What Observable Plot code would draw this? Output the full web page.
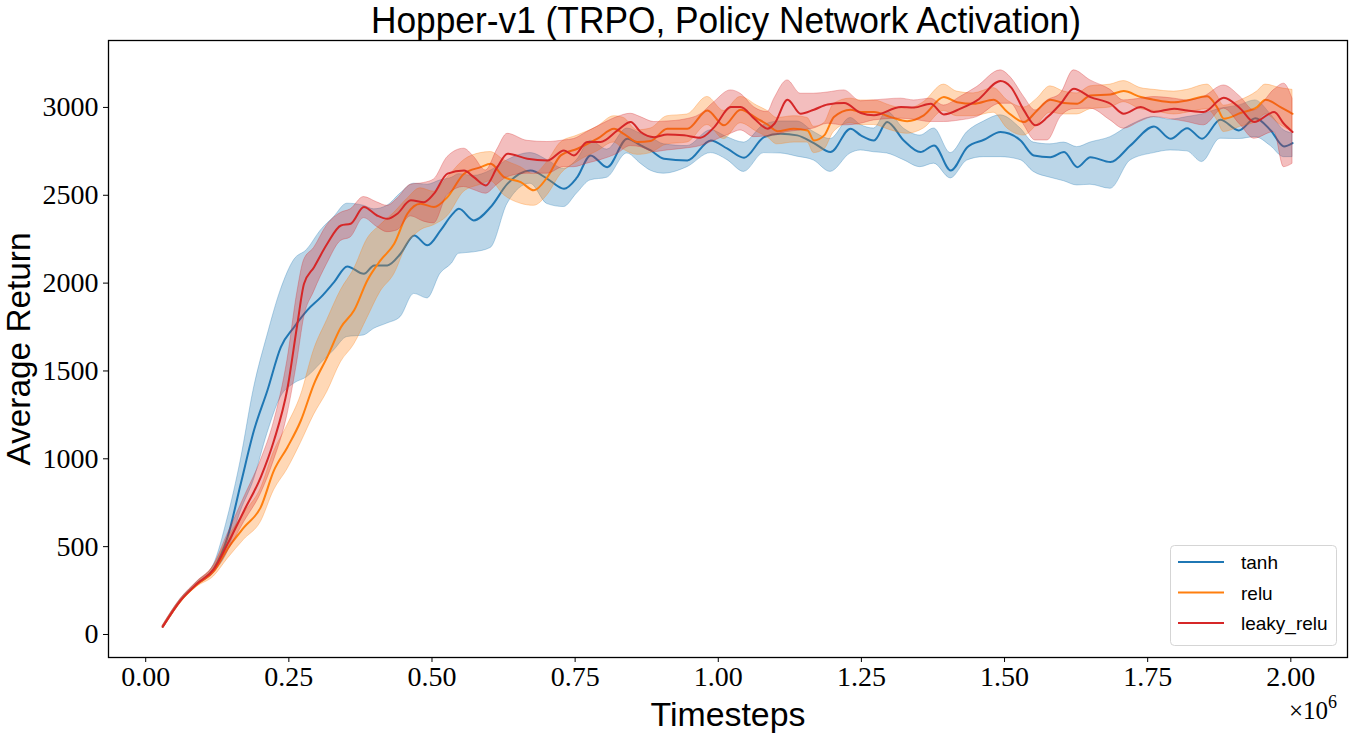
<!DOCTYPE html>
<html>
<head>
<meta charset="utf-8">
<script src="https://cdn.jsdelivr.net/npm/d3@7"></script>
<script src="https://cdn.jsdelivr.net/npm/@observablehq/plot@0.6"></script>
<style>
  html, body { margin: 0; padding: 0; background: white; }
  #wrap { position: relative; width: 1357px; height: 744px; overflow: hidden; }
  #overlay { position: absolute; left: 0; top: 0; pointer-events: none; }
</style>
</head>
<body>
<div id="wrap"></div>
<script>
// ---- Data (timesteps in millions) ----
const seriesNames = ["tanh", "relu", "leaky_relu"];
const seriesColors = ["#1f77b4", "#ff7f0e", "#d62728"];
const xTicks = [0, 0.25, 0.5, 0.75, 1.0, 1.25, 1.5, 1.75, 2.0];
const yTicks = [0, 500, 1000, 1500, 2000, 2500, 3000];

const tanhT = [0.03,0.061,0.090,0.119,0.143,0.166,0.189,0.2125,0.236,0.259,0.282,0.306,0.329,0.352,0.381,0.399,0.422,0.445,0.469,0.492,0.515,0.535,0.547,0.573,0.6025,0.632,0.672,0.7015,0.7305,0.753,0.777,0.806,0.841,0.8645,0.882,0.905,0.946,0.987,1.016,1.045,1.080,1.109,1.138,1.167,1.196,1.231,1.249,1.272,1.295,1.324,1.353,1.377,1.406,1.435,1.464,1.493,1.528,1.551,1.580,1.604,1.627,1.650,1.685,1.720,1.761,1.790,1.819,1.845,1.877,1.909,1.938,1.965,1.988,2.003];
const tanhMean = [45,194,289,374,554,858,1161,1389,1636,1749,1845,1920,2006,2095,2053,2101,2101,2167,2271,2215,2300,2390,2423,2357,2433,2566,2641,2594,2537,2600,2727,2660,2822,2784,2755,2708,2698,2812,2765,2714,2831,2850,2841,2797,2746,2879,2841,2812,2917,2812,2746,2784,2641,2774,2816,2860,2812,2727,2717,2746,2660,2717,2689,2784,2892,2822,2882,2822,2930,2869,2939,2869,2778,2797];
const tanhLo = [40,186,278,352,470,700,880,1143,1351,1427,1465,1542,1617,1693,1702,1740,1770,1806,1939,1913,2054,2112,2167,2175,2200,2452,2566,2450,2433,2509,2585,2600,2738,2680,2640,2623,2660,2740,2700,2633,2740,2738,2720,2698,2633,2738,2755,2745,2738,2700,2660,2680,2596,2698,2717,2717,2700,2633,2600,2580,2556,2560,2537,2698,2740,2755,2750,2689,2822,2820,2831,2780,2717,2717];
const tanhHi = [50,202,300,398,660,990,1400,1700,1960,2130,2190,2300,2376,2452,2440,2420,2440,2510,2566,2560,2585,2600,2620,2610,2640,2700,2740,2700,2650,2700,2810,2760,2880,2850,2830,2790,2780,2870,2830,2800,2900,2920,2920,2860,2820,2940,2900,2880,2975,2880,2840,2880,2740,2860,2920,2955,2880,2800,2790,2800,2774,2800,2831,2898,2945,2930,2945,2960,2993,3010,3040,2960,2870,2852];

const reluT = [0.03,0.061,0.090,0.119,0.143,0.172,0.201,0.224,0.2475,0.271,0.294,0.317,0.341,0.364,0.387,0.410,0.434,0.457,0.480,0.5035,0.527,0.556,0.585,0.6025,0.626,0.655,0.678,0.7015,0.725,0.754,0.789,0.818,0.835,0.859,0.882,0.911,0.946,0.981,1.010,1.039,1.068,1.086,1.103,1.132,1.156,1.167,1.185,1.202,1.231,1.249,1.272,1.301,1.330,1.359,1.394,1.417,1.446,1.481,1.505,1.534,1.557,1.580,1.604,1.627,1.650,1.685,1.708,1.738,1.761,1.796,1.819,1.854,1.871,1.883,1.912,1.941,1.956,1.982,2.003];
const reluMean = [45,192,285,360,488,611,725,934,1066,1218,1427,1579,1749,1845,2015,2129,2224,2395,2452,2433,2490,2623,2660,2679,2603,2575,2528,2603,2727,2765,2822,2879,2850,2803,2809,2879,2879,2983,2898,2987,2936,2903,2865,2879,2869,2812,2841,2945,2987,2974,2974,2945,2922,2955,3059,3030,3021,3044,2974,2917,2983,3044,3025,3021,3068,3074,3093,3059,3044,3030,3040,3063,3002,2936,2968,3002,3044,3002,2964];
const reluLo = [40,184,272,330,430,540,640,820,940,1090,1250,1380,1550,1650,1800,1950,2050,2220,2300,2330,2380,2520,2560,2580,2500,2452,2440,2500,2620,2690,2750,2800,2760,2730,2740,2790,2800,2900,2820,2910,2860,2830,2790,2800,2800,2740,2760,2860,2910,2900,2900,2870,2850,2880,2980,2950,2950,2970,2880,2840,2900,2970,2960,2960,2990,3000,3030,2990,2980,2960,2970,2990,2930,2860,2890,2920,2960,2900,2860];
const reluHi = [50,200,298,390,545,690,830,1040,1190,1360,1620,1790,1960,2080,2250,2330,2400,2480,2540,2520,2600,2700,2740,2746,2700,2660,2620,2690,2800,2840,2890,2950,2940,2870,2880,2950,2960,3060,2980,3060,3010,2980,2940,2950,2940,2890,2910,3020,3050,3040,3040,3010,2990,3030,3130,3090,3080,3110,3040,3000,3050,3120,3090,3080,3120,3130,3150,3110,3100,3090,3100,3130,3070,3010,3040,3090,3130,3110,3100];

const leakyT = [0.03,0.061,0.090,0.119,0.143,0.172,0.201,0.224,0.2475,0.265,0.2765,0.294,0.317,0.341,0.358,0.381,0.404,0.422,0.4395,0.463,0.486,0.5035,0.527,0.556,0.573,0.594,0.614,0.632,0.6665,0.7015,0.7305,0.748,0.771,0.7945,0.824,0.847,0.8645,0.888,0.911,0.940,0.969,0.993,1.022,1.039,1.063,1.086,1.098,1.121,1.144,1.167,1.191,1.220,1.249,1.272,1.319,1.342,1.371,1.394,1.423,1.452,1.493,1.511,1.534,1.554,1.575,1.598,1.621,1.650,1.685,1.708,1.738,1.761,1.796,1.819,1.848,1.883,1.912,1.936,1.971,1.988,2.003];
const leakyMean = [45,194,290,372,516,706,896,1104,1400,1770,1996,2091,2224,2328,2338,2433,2385,2366,2395,2471,2461,2509,2623,2641,2603,2556,2660,2737,2708,2698,2755,2727,2803,2803,2869,2917,2860,2831,2846,2841,2828,2888,3002,3002,2936,2879,2907,3044,2964,2987,3017,3025,2968,2955,3002,2999,3021,2960,2993,3040,3150,3116,2983,2898,2945,3021,3107,3059,3021,2964,3002,2974,2993,2983,2974,3055,2993,2917,2974,2907,2860];
const leakyLo = [38,185,278,350,470,640,800,990,1250,1560,1800,1950,2110,2240,2260,2370,2320,2290,2300,2380,2350,2340,2500,2547,2530,2509,2560,2603,2623,2623,2660,2660,2680,2700,2736,2780,2774,2746,2755,2765,2780,2810,2850,2869,2831,2836,2841,2860,2869,2880,2907,2898,2907,2926,2936,2930,2917,2917,2926,2945,3021,3021,2900,2812,2812,2945,2990,2993,2926,2879,2920,2945,2930,2917,2898,2993,2900,2822,2860,2660,2679];
const leakyHi = [52,203,302,395,570,780,990,1210,1560,1950,2130,2200,2330,2400,2420,2490,2460,2440,2480,2560,2570,2590,2717,2765,2720,2641,2760,2850,2810,2803,2812,2820,2860,2900,2945,2964,2945,2917,2920,2930,2960,3030,3097,3078,3000,2974,3050,3154,3078,3078,3085,3097,3035,3040,3050,3040,3050,3011,3060,3116,3211,3170,3060,2983,3040,3078,3211,3154,3100,3040,3050,3059,3050,3040,3060,3125,3060,2983,3100,3135,3049];

// ---- Build tables ----
const tSets = [tanhT, reluT, leakyT];
const meanSets = [tanhMean, reluMean, leakyMean];
const loSets = [tanhLo, reluLo, leakyLo];
const hiSets = [tanhHi, reluHi, leakyHi];

const marks = [];
seriesNames.forEach((name, i) => {
  const rows = tSets[i].map((t, k) => ({t, mean: meanSets[i][k], lo: loSets[i][k], hi: hiSets[i][k]}));
  marks.push(Plot.areaY(rows, {x: "t", y1: "lo", y2: "hi", fill: seriesColors[i], fillOpacity: 0.3,
    stroke: seriesColors[i], strokeOpacity: 0.3, strokeWidth: 1, curve: "monotone-x"}));
  marks.push(Plot.lineY(rows, {x: "t", y: "mean", stroke: seriesColors[i], strokeWidth: 2, curve: "monotone-x"}));
});

const chart = Plot.plot({
  width: 1357,
  height: 744,
  marginLeft: 108,
  marginRight: 10,
  marginTop: 40,
  marginBottom: 87,
  x: {domain: [-0.065, 2.099]},
  y: {domain: [-131, 3381]},
  style: {fontFamily: "'Liberation Serif', 'DejaVu Serif', serif", fontSize: "28px", color: "black", background: "white"},
  marks: [
    ...marks,
    Plot.frame({stroke: "black", strokeWidth: 1.3}),
    Plot.axisX({ticks: xTicks, tickFormat: d => d.toFixed(2), tickSize: 5, tickPadding: 4, label: null, fontSize: 28}),
    Plot.axisY({ticks: yTicks, tickFormat: d => String(d), tickSize: 5, tickPadding: 5, label: null, fontSize: 28})
  ]
});

const wrap = document.getElementById("wrap");
wrap.appendChild(chart);

// ---- Overlay: title, axis labels, multiplier, legend ----
const ns = "http://www.w3.org/2000/svg";
const ov = document.createElementNS(ns, "svg");
ov.setAttribute("id", "overlay");
ov.setAttribute("width", 1357);
ov.setAttribute("height", 744);
wrap.appendChild(ov);

function txt(str, attrs) {
  const el = document.createElementNS(ns, "text");
  for (const k in attrs) el.setAttribute(k, attrs[k]);
  el.textContent = str;
  ov.appendChild(el);
  return el;
}
const sans = "'Liberation Sans', 'DejaVu Sans', sans-serif";
txt("Hopper-v1 (TRPO, Policy Network Activation)", {x: 726, y: 33, "text-anchor": "middle", "font-family": sans, "font-size": 37, textLength: 710, lengthAdjust: "spacingAndGlyphs"});
txt("Timesteps", {x: 728, y: 726, "text-anchor": "middle", "font-family": sans, "font-size": 34, textLength: 155, lengthAdjust: "spacingAndGlyphs"});
txt("Average Return", {x: 0, y: 0, "text-anchor": "middle", "font-family": sans, "font-size": 34, textLength: 233, lengthAdjust: "spacingAndGlyphs", transform: "translate(30,349) rotate(-90)"});
const mult = txt("", {x: 1289, y: 719, "font-family": "'Liberation Serif', serif", "font-size": 25});
const t1 = document.createElementNS(ns, "tspan"); t1.textContent = "×10"; mult.appendChild(t1);
const t2 = document.createElementNS(ns, "tspan"); t2.textContent = "6"; t2.setAttribute("dy", -11); t2.setAttribute("font-size", 18); mult.appendChild(t2);

// legend
const box = document.createElementNS(ns, "rect");
box.setAttribute("x", 1170.5); box.setAttribute("y", 545.5);
box.setAttribute("width", 166); box.setAttribute("height", 100);
box.setAttribute("rx", 4); box.setAttribute("fill", "white"); box.setAttribute("fill-opacity", 0.8);
box.setAttribute("stroke", "#d5d5d5"); box.setAttribute("stroke-width", 1);
ov.appendChild(box);
const legY = [562, 592.5, 623];
seriesNames.forEach((name, i) => {
  const ln = document.createElementNS(ns, "line");
  ln.setAttribute("x1", 1178); ln.setAttribute("x2", 1224);
  ln.setAttribute("y1", legY[i]); ln.setAttribute("y2", legY[i]);
  ln.setAttribute("stroke", seriesColors[i]); ln.setAttribute("stroke-width", 2);
  ov.appendChild(ln);
  txt(name, {x: 1241, y: legY[i] + 7, "font-family": sans, "font-size": 19});
});
</script>
</body>
</html>
